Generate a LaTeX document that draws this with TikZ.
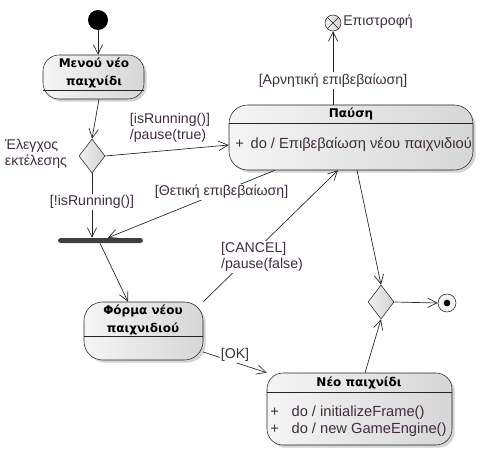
\documentclass[tikz,border=0pt]{standalone}
\usepackage{fontspec}
\setmainfont{Liberation Sans}
\newfontfamily\titlefont{DejaVu Sans}
\usepackage{xcolor}
\usepackage{tikz}
\usetikzlibrary{arrows.meta,shapes.geometric,shadows,fit}

\definecolor{labeltext}{RGB}{62,46,62}
\definecolor{edgegray}{RGB}{36,36,36}

\begin{document}
\begin{tikzpicture}[x=0.75pt,y=-0.75pt,
    font=\fontsize{10.6}{12}\selectfont,
    statebox/.style={draw=edgegray,rounded corners=#1,inner sep=0pt,
        left color=gray!8,right color=gray!32,
        drop shadow={shadow xshift=2pt,shadow yshift=-2pt,opacity=0.35}},
    choice/.style={diamond,draw=edgegray,inner sep=0pt,
        minimum width=19.5pt,minimum height=25.5pt,
        left color=gray!12,right color=gray!35},
    titletext/.style={font=\titlefont\bfseries\fontsize{9}{13}\selectfont,align=center},
    bodytext/.style={text=labeltext,align=left,anchor=west,inner sep=0pt,
        font=\fontsize{11}{12.8}\selectfont},
    guard/.style={text=labeltext,align=left,fill=white,inner sep=1pt},
    flow/.style={draw=edgegray,line width=0.5pt,-{Straight Barb[length=7pt,width=7pt]}}]

    \useasboundingbox (0,0) rectangle (484,456);

    \newcommand{\statenode}[6]{%
        \node[statebox=#4,fit={#2}] (#1) {};
        \draw[edgegray] (#1.west |- 0,#3) -- (#1.east |- 0,#3);
        \node[titletext] at #5 {#6};
    }

    \statenode{menu}{(43,55) (144,99)}{90}{12pt}{(94,73)}{Μενού νέο\\παιχνίδι}
    \statenode{pause}{(229,105) (473,170)}{123}{14pt}{(351,114)}{Παύση}
    \statenode{form}{(84,302) (203,360)}{336}{14pt}{(143,320)}{Φόρμα νέου\\παιχνιδιού}
    \statenode{neo}{(267,373) (452,445)}{392}{12pt}{(359,383)}{Νέο παιχνίδι}

    \node[bodytext] at (235,144) {\makebox[11.5pt][l]{+}do / Επιβεβαίωση νέου παιχνιδιού};
    \node[bodytext] at (270,421.5) {\makebox[16pt][l]{+}do / initializeFrame()\\
        \makebox[16pt][l]{+}do / new GameEngine()};

    \node[circle,fill=black,minimum size=15pt,inner sep=0pt] (init) at (98,20) {};
    \node[choice] (check) at (92,156) {};
    \node[choice] (merge) at (381,302) {};
    \node[rectangle,rounded corners=2pt,fill=black!75,inner sep=0pt,
        fit={(58,238) (143,243)}] (fork) {};
    \node[circle,draw=edgegray,fill=gray!10,minimum size=13.5pt,inner sep=0pt] (final) at (447,303) {};
    \fill[black] (final) circle (2.5pt);
    \node[circle,draw=edgegray,left color=gray!10,right color=gray!35,
        minimum size=12pt,inner sep=0pt] (exit) at (333,23) {};
    \draw[edgegray] (exit.45) -- (exit.225) (exit.135) -- (exit.-45);
    \node[anchor=west,text=labeltext,inner sep=0pt] at (343,22) {Επιστροφή};
    \node[text=labeltext,align=left,inner sep=0pt] at (36,154) {Έλεγχος\\εκτέλεσης};

    \draw[flow] (init) -- (init |- menu.north);
    \draw[flow] (menu.south -| 99,0) -- (check.north);
    \draw[flow] (check.east) -- (pause.west |- 0,145);
    \draw[flow] (check.south) -- (check.south |- fork.north)
        node[guard,pos=0.45] {[!isRunning()]};
    \draw[flow] (pause.south -| 275,0) -- (fork.north -| 108,0)
        node[guard,pos=0.32] {[Θετική επιβεβαίωση]};
    \draw[flow] (fork.south -| 100,0) -- (form.north -| 128,0);
    \draw[flow] (form.north east) -- (pause.south -| 338,0);
    \draw[flow] (form.east |- 0,352) -- (neo.north west);
    \draw[flow] (pause.south -| 357,0) -- (merge.north);
    \draw[flow] (neo.north -| 365,0) -- (merge.south);
    \draw[flow] (merge.east) -- (final.west);
    \draw[flow] (pause.north -| exit) -- (exit.south)
        node[guard,pos=0.33] {[Αρνητική επιβεβαίωση]};

    \node[text=labeltext,align=left,inner sep=0pt] at (170,128) {[isRunning()]\\/pause(true)};
    \node[guard] at (262,257) {[CANCEL]\\/pause(false)};
    \node[guard] at (235,355) {[OK]};
\end{tikzpicture}
\end{document}
